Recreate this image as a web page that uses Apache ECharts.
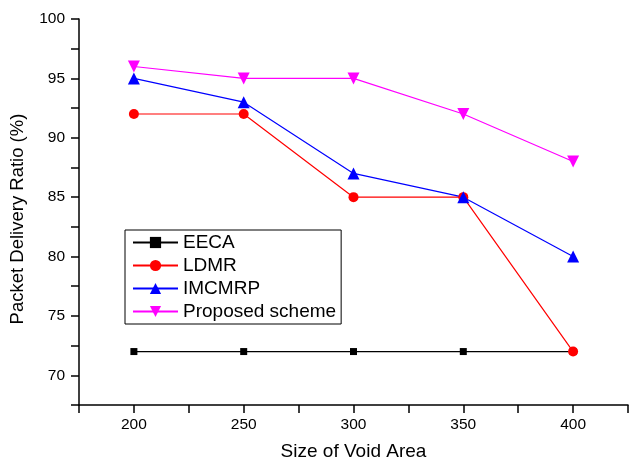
<!DOCTYPE html>
<html>
<head>
<meta charset="utf-8">
<script src="https://cdn.jsdelivr.net/npm/echarts@6/dist/echarts.min.js"></script>
<style>html,body{margin:0;padding:0;background:#fff;}#c{width:631px;height:466px;}</style>
</head>
<body>
<div id="c"></div>
<script>
var xValues = [200, 250, 300, 350, 400];
var seriesNames = ['EECA', 'LDMR', 'IMCMRP', 'Proposed scheme'];
var eeca = [72, 72, 72, 72, 72];
var ldmr = [92, 92, 85, 85, 72];
var imcmrp = [95, 93, 87, 85, 80];
var proposed = [96, 95, 95, 92, 88];
var yTickLabels = [70, 75, 80, 85, 90, 95, 100];
var xTickLabels = [200, 250, 300, 350, 400];

function pairs(vals) { return xValues.map(function (x, i) { return [x, vals[i]]; }); }

var font = 'Liberation Sans, Arial, Helvetica, sans-serif';
var chart = echarts.init(document.getElementById('c'), null, {renderer: 'canvas'});
function mkSeries(name, data, color, symbol, size, rotate) {
  return {
    name: name, type: 'line', data: pairs(data),
    symbol: symbol, symbolSize: size, symbolRotate: rotate || 0,
    lineStyle: {color: color, width: 1.2},
    itemStyle: {color: color},
    emphasis: {disabled: true},
    animation: false
  };
}
chart.setOption({
  backgroundColor: '#fff',
  animation: false,
  grid: {left: 79, right: 0, top: 19, bottom: 56, containLabel: false},
  legend: {
    orient: 'vertical', left: 125, top: 230,
    padding: [3, 5, 3, 7],
    itemGap: 4, itemWidth: 45, itemHeight: 14,
    borderColor: '#000', borderWidth: 1, borderRadius: 0,
    textStyle: {fontFamily: font, fontSize: 19, color: '#000', lineHeight: 18},
    data: seriesNames
  },
  xAxis: {
    type: 'value', min: 175, max: 425, interval: 25,
    name: 'Size of Void Area', nameLocation: 'middle', nameGap: 37,
    nameTextStyle: {fontFamily: font, fontSize: 19, color: '#000'},
    axisLine: {show: true, lineStyle: {color: '#000', width: 1.5}},
    axisTick: {show: true, inside: false, length: 8, lineStyle: {color: '#000', width: 1.5}},
    axisLabel: {
      margin: 12, fontFamily: font, fontSize: 15.5, color: '#000',
      formatter: function (v) { return xTickLabels.indexOf(v) >= 0 ? String(v) : ''; }
    },
    splitLine: {show: false}
  },
  yAxis: {
    type: 'value', min: 67.5, max: 100, interval: 2.5,
    name: 'Packet Delivery Ratio (%)', nameLocation: 'middle', nameGap: 52, nameRotate: 90,
    nameTextStyle: {fontFamily: font, fontSize: 18.5, color: '#000', padding: [0, 14, 0, 0]},
    axisLine: {show: true, lineStyle: {color: '#000', width: 1.5}},
    axisTick: {show: true, inside: false, length: 8, lineStyle: {color: '#000', width: 1.5}},
    axisLabel: {
      margin: 14, fontFamily: font, fontSize: 15.5, color: '#000',
      formatter: function (v) { return yTickLabels.indexOf(v) >= 0 ? String(v) : ''; }
    },
    splitLine: {show: false}
  },
  series: [
    mkSeries('EECA', eeca, '#000000', 'rect', 7),
    mkSeries('LDMR', ldmr, '#ff0000', 'circle', 10),
    mkSeries('IMCMRP', imcmrp, '#0000ff', 'triangle', 12),
    mkSeries('Proposed scheme', proposed, '#ff00ff', 'triangle', 12, 180)
  ]
});
</script>
</body>
</html>
